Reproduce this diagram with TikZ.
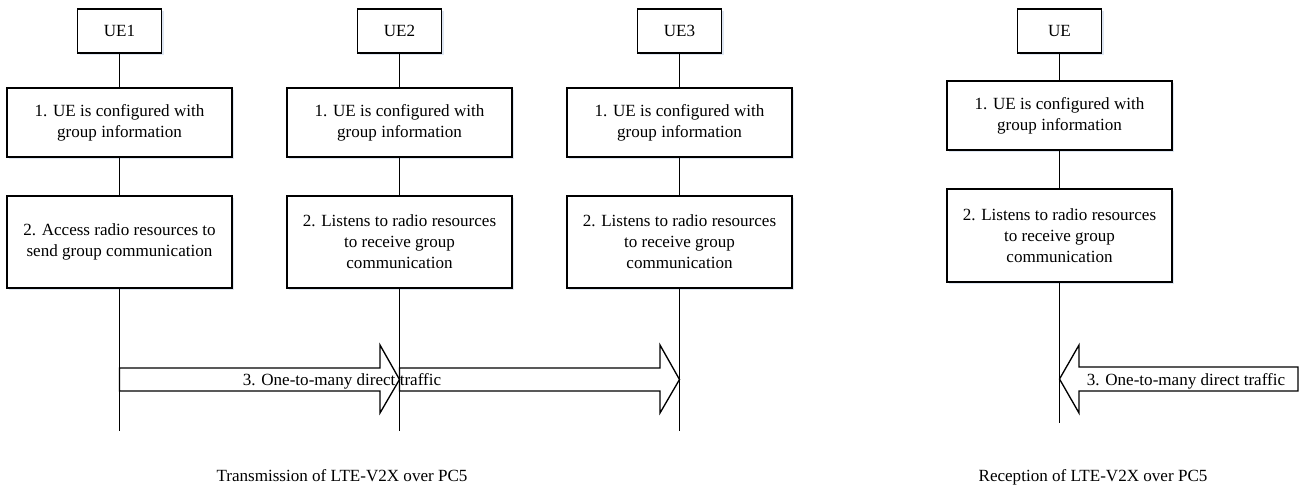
\documentclass[tikz,border=0pt]{standalone}
\usepackage{fontspec}
\setmainfont{Liberation Serif}
\usetikzlibrary{shadows}
\definecolor{shadowc}{RGB}{222,230,242}
\begin{document}
\begin{tikzpicture}[x=0.75pt,y=-0.75pt,
  font=\fontsize{12.8}{15.75}\selectfont,
  box/.style={draw,line width=1pt,fill=white,align=center,inner sep=0pt,
    drop shadow={shadow xshift=1.6pt,shadow yshift=-1.6pt,fill=shadowc,opacity=1}},
  uebox/.style={box,minimum width=63pt,minimum height=33pt},
  stepbox/.style={box,minimum width=168.75pt},
  twoline/.style={stepbox,minimum height=51.75pt},
  threeline/.style={stepbox,minimum height=69pt},
  life/.style={line width=1pt},
  blockarrow/.style={line width=1pt,line join=miter},
  lbl/.style={anchor=base,inner sep=0pt}]
\useasboundingbox (0,0) rectangle (1302,487);

% UE1
\node[uebox] (u1) at (119.5,31) {UE1};
\node[twoline] (a1) at (119.5,122.5) {1. UE is configured with\\group information};
\node[threeline] (b1) at (119.5,242) {2. Access radio resources to\\send group communication};
\coordinate (e1) at (119.5,431);
% UE2
\node[uebox] (u2) at (399.5,31) {UE2};
\node[twoline] (a2) at (399.5,122.5) {1. UE is configured with\\group information};
\node[threeline] (b2) at (399.5,242) {2. Listens to radio resources\\to receive group\\communication};
\coordinate (e2) at (399.5,431);
% UE3
\node[uebox] (u3) at (679.5,31) {UE3};
\node[twoline] (a3) at (679.5,122.5) {1. UE is configured with\\group information};
\node[threeline] (b3) at (679.5,242) {2. Listens to radio resources\\to receive group\\communication};
\coordinate (e3) at (679.5,431);
% UE (reception)
\node[uebox] (u4) at (1059.5,31) {UE};
\node[twoline] (a4) at (1059.5,115.5) {1. UE is configured with\\group information};
\node[threeline,minimum height=69.75pt] (b4) at (1059.5,235.5) {2. Listens to radio resources\\to receive group\\communication};
\coordinate (e4) at (1059.5,423);

% lifelines
\foreach \i in {1,2,3,4}{
  \draw[life] (u\i.south) -- (a\i.north);
  \draw[life] (a\i.south) -- (b\i.north);
  \draw[life] (b\i.south) -- (e\i);
}

% block arrows
\draw[blockarrow] (119.5,368) -- (380,368) -- (380,345) -- (399.5,379.5) -- (380,413) -- (380,391) -- (119.5,391) -- cycle;
\draw[blockarrow] (399.5,368) -- (660,368) -- (660,345) -- (679.5,379.5) -- (660,413) -- (660,391) -- (399.5,391) -- cycle;
\draw[blockarrow] (1298,367) -- (1079,367) -- (1079,345) -- (1059.5,379) -- (1079,413) -- (1079,391) -- (1298,391) -- cycle;

% labels
\node[lbl] (m1) at (342,385) {3. One-to-many direct traffic};
\node[lbl] (m2) at (1186,385) {3. One-to-many direct traffic};
\node[lbl] (c1) at (342,481) {Transmission of LTE-V2X over PC5};
\node[lbl] (c2) at (1093,481) {Reception of LTE-V2X over PC5};
\end{tikzpicture}
\end{document}
